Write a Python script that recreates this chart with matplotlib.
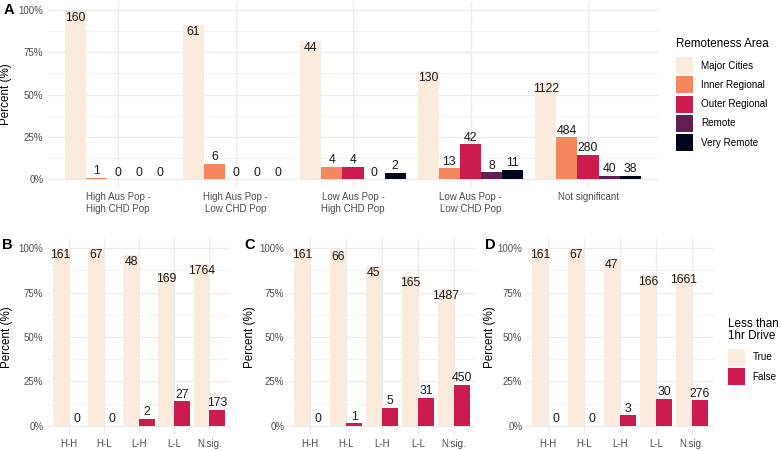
import numpy as np
import matplotlib
matplotlib.use("Agg")
import matplotlib.pyplot as plt
from matplotlib.patches import Rectangle

plt.rcParams["font.family"] = ["Liberation Sans", "DejaVu Sans"]

W, H = 781, 451

# ---- data -------------------------------------------------------------
CATS_A = ["High Aus Pop -\nHigh CHD Pop", "High Aus Pop -\nLow CHD Pop",
          "Low Aus Pop -\nHigh CHD Pop", "Low Aus Pop -\nLow CHD Pop",
          "Not significant"]
REMOTE_NAMES = ["Major Cities", "Inner Regional", "Outer Regional", "Remote", "Very Remote"]
MAJOR_CITIES = [160, 61, 44, 130, 1122]
INNER_REGIONAL = [1, 6, 4, 13, 484]
OUTER_REGIONAL = [0, 0, 4, 42, 280]
REMOTE = [0, 0, 0, 8, 40]
VERY_REMOTE = [0, 0, 2, 11, 38]

CATS_SHORT = ["H-H", "H-L", "L-H", "L-L", "N.sig."]
DRIVE_NAMES = ["True", "False"]
B_TRUE = [161, 67, 48, 169, 1764]
B_FALSE = [0, 0, 2, 27, 173]
C_TRUE = [161, 66, 45, 165, 1487]
C_FALSE = [0, 1, 5, 31, 450]
D_TRUE = [161, 67, 47, 166, 1661]
D_FALSE = [0, 0, 3, 30, 276]

REMOTE_COLORS = ["#FAEBDD", "#F4875E", "#CB1B4F", "#611F53", "#03051A"]
DRIVE_COLORS = ["#FAEBDD", "#CB1B4F"]

GRID = "#EBEBEB"
TICK = "#4D4D4D"


def px_axes(fig, l, t, r, b):
    return fig.add_axes([l / W, 1 - b / H, (r - l) / W, (b - t) / H])


def bar_panel(ax, cats, series, colors):
    counts = np.array(series, dtype=float)
    pct = counts / counts.sum(axis=0) * 100
    n = len(series)
    w = 0.9 / n
    x = np.arange(len(cats))
    for i in range(n):
        xs = x - 0.45 + w / 2 + i * w
        ax.bar(xs, pct[i], width=w, color=colors[i], zorder=2, linewidth=0)
        for xi, yi, c in zip(xs, pct[i], series[i]):
            off = -4.7 if i == 0 else 4.7
            ax.annotate(str(c), (xi, yi), xytext=(0, off), textcoords="offset points",
                        ha="center", va="center", fontsize=8.8, color="#1A1A1A", zorder=3)
    ax.set_xlim(-0.6, len(cats) - 0.4)
    ax.set_ylim(-5, 105)
    ax.set_yticks([0, 25, 50, 75, 100])
    ax.set_yticklabels(["0%", "25%", "50%", "75%", "100%"])
    ax.set_yticks([12.5, 37.5, 62.5, 87.5], minor=True)
    ax.set_xticks(x)
    ax.set_xticklabels(cats, linespacing=1.25)
    ax.tick_params(axis="both", which="both", length=0, colors=TICK, labelsize=7)
    ax.tick_params(axis="x", pad=3.5)
    ax.tick_params(axis="y", pad=3)
    ax.grid(which="major", color=GRID, lw=0.9, zorder=0)
    ax.grid(which="minor", axis="y", color=GRID, lw=0.5, zorder=0)
    for s in ax.spines.values():
        s.set_visible(False)
    ax.set_axisbelow(True)
    ax.set_ylabel("Percent (%)", fontsize=8.4)


def legend_block(fig, title, names, colors, x, ytitle, ykeys):
    fig.text(x / W, 1 - ytitle / H, title, fontsize=8.4, ha="left", va="center",
             linespacing=1.1)
    for nm, col, yc in zip(names, colors, ykeys):
        fig.add_artist(Rectangle((x / W, 1 - (yc + 8.5) / H), 17 / W, 17 / H,
                                 transform=fig.transFigure, facecolor=col, edgecolor="none"))
        fig.text((x + 25) / W, 1 - yc / H, nm, fontsize=7.1, ha="left", va="center")


def main():
    fig = plt.figure(figsize=(W / 100, H / 100), dpi=100)

    axA = px_axes(fig, 47.5, 1.5, 658.5, 187.5)
    bar_panel(axA, CATS_A, [MAJOR_CITIES, INNER_REGIONAL, OUTER_REGIONAL, REMOTE, VERY_REMOTE],
              REMOTE_COLORS)

    axB = px_axes(fig, 47.5, 239.4, 230.5, 434.6)
    bar_panel(axB, CATS_SHORT, [B_TRUE, B_FALSE], DRIVE_COLORS)
    axC = px_axes(fig, 288.5, 239.4, 475.5, 434.6)
    bar_panel(axC, CATS_SHORT, [C_TRUE, C_FALSE], DRIVE_COLORS)
    axD = px_axes(fig, 526.5, 239.4, 713.5, 434.6)
    bar_panel(axD, CATS_SHORT, [D_TRUE, D_FALSE], DRIVE_COLORS)

    # y-label anchor = right edge of the rotated text
    for ax, xr in [(axA, 12.5), (axB, 12.5), (axC, 255.5), (axD, 495.5)]:
        pos = ax.get_position()
        ax.yaxis.set_label_coords((xr - pos.x0 * W) / (pos.width * W), 0.5)

    for lab, x, y in [("A", 4, 10), ("B", 2, 245), ("C", 244, 245), ("D", 485, 245)]:
        fig.text(x / W, 1 - y / H, lab, fontsize=10.5, fontweight="bold", ha="left", va="center")

    legend_block(fig, "Remoteness Area", REMOTE_NAMES, REMOTE_COLORS, 676, 44,
                 [65.7, 84.9, 104.1, 123.3, 142.5])
    legend_block(fig, "Less than\n1hr Drive", DRIVE_NAMES, DRIVE_COLORS, 727.5, 330,
                 [357.3, 376.7])

    fig.savefig("out.png", dpi=100)
    plt.close(fig)


if __name__ == "__main__":
    main()
